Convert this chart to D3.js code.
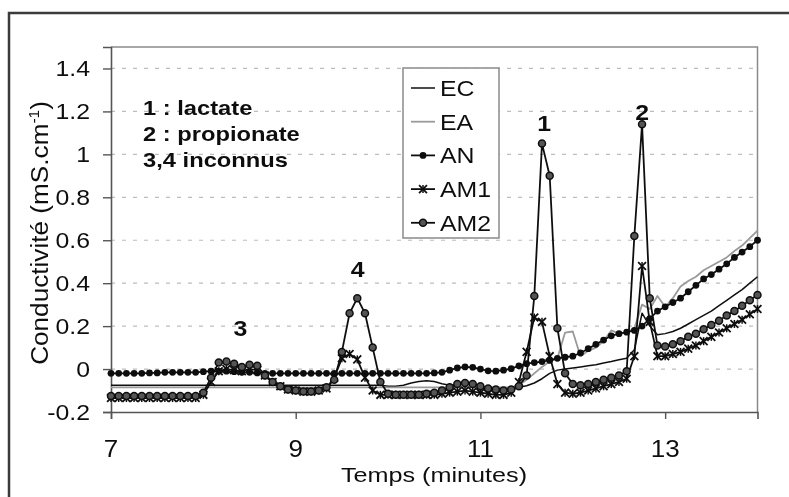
<!DOCTYPE html>
<html>
<head>
<meta charset="utf-8">
<script src="https://cdn.jsdelivr.net/npm/d3@7"></script>
<style>
  body { margin: 0; background: #fff; }
  svg { display: block; }
  text { font-family: "Liberation Sans", Arial, sans-serif; fill: #111; }
</style>
</head>
<body>
<div id="chart"></div>
<script>
// sampling times in seconds (5 s step), shown in minutes
const timeSec = [420,425,430,435,440,445,450,455,460,465,470,475,
  480,485,490,495,500,505,510,515,520,525,530,535,
  540,545,550,555,560,565,570,575,580,585,590,595,
  600,605,610,615,620,625,630,635,640,645,650,655,
  660,665,670,675,680,685,690,695,700,705,710,715,
  720,725,730,735,740,745,750,755,760,765,770,775,
  780,785,790,795,800,805,810,815,820,825,830,835,
  840];

const EC = [-0.075,-0.075,-0.075,-0.075,-0.075,-0.075,-0.075,-0.075,-0.075,-0.075,-0.075,-0.075,
  -0.075,-0.075,-0.075,-0.075,-0.075,-0.075,-0.075,-0.075,-0.075,-0.075,-0.075,-0.075,
  -0.075,-0.075,-0.075,-0.075,-0.075,-0.075,-0.075,-0.075,-0.075,-0.075,-0.075,-0.075,
  -0.08,-0.08,-0.075,-0.065,-0.058,-0.055,-0.058,-0.068,-0.075,-0.072,-0.068,-0.072,
  -0.08,-0.085,-0.088,-0.088,-0.088,-0.085,-0.078,-0.065,-0.045,-0.02,-0.005,0.0,
  0.005,0.01,0.015,0.02,0.028,0.035,0.043,0.05,0.09,0.26,0.2,0.16,
  0.165,0.175,0.19,0.21,0.23,0.25,0.27,0.295,0.32,0.345,0.37,0.4,
  0.43];

const EA = [-0.085,-0.085,-0.085,-0.085,-0.085,-0.085,-0.085,-0.085,-0.085,-0.085,-0.085,-0.085,
  -0.085,-0.085,-0.085,-0.085,-0.085,-0.085,-0.085,-0.085,-0.085,-0.085,-0.085,-0.085,
  -0.085,-0.085,-0.085,-0.085,-0.085,-0.085,-0.085,-0.085,-0.085,-0.085,-0.085,-0.085,
  -0.085,-0.085,-0.085,-0.085,-0.085,-0.085,-0.085,-0.085,-0.085,-0.085,-0.085,-0.085,
  -0.085,-0.085,-0.085,-0.085,-0.085,-0.075,-0.05,-0.02,0.01,0.035,0.05,0.17,
  0.175,0.06,0.085,0.1,0.13,0.18,0.165,0.17,0.19,0.3,0.28,0.34,
  0.29,0.33,0.385,0.41,0.43,0.46,0.48,0.5,0.52,0.55,0.575,0.61,
  0.645];

const AN = [-0.02,-0.02,-0.02,-0.02,-0.02,-0.018,-0.018,-0.015,-0.015,-0.015,-0.015,-0.015,
  -0.012,-0.01,-0.01,-0.01,-0.012,-0.015,-0.015,-0.018,-0.02,-0.02,-0.02,-0.02,
  -0.02,-0.02,-0.02,-0.02,-0.02,-0.02,-0.02,-0.02,-0.02,-0.02,-0.02,-0.02,
  -0.02,-0.02,-0.02,-0.02,-0.02,-0.02,-0.018,-0.015,-0.005,0.005,0.01,0.008,
  0.0,-0.008,-0.01,-0.005,0.002,0.015,0.025,0.03,0.035,0.04,0.05,0.055,
  0.06,0.075,0.095,0.115,0.135,0.155,0.165,0.172,0.18,0.2,0.235,0.27,
  0.29,0.31,0.33,0.36,0.39,0.42,0.44,0.465,0.49,0.52,0.545,0.57,
  0.6];

const AM1 = [-0.135,-0.135,-0.135,-0.135,-0.135,-0.135,-0.135,-0.135,-0.135,-0.135,-0.135,-0.135,
  -0.12,-0.06,-0.01,0.0,-0.005,-0.01,0.0,-0.005,-0.03,-0.06,-0.08,-0.095,
  -0.1,-0.105,-0.105,-0.1,-0.09,-0.04,0.05,0.07,0.045,-0.04,-0.1,-0.12,
  -0.12,-0.12,-0.12,-0.12,-0.12,-0.12,-0.12,-0.115,-0.11,-0.105,-0.1,-0.105,
  -0.11,-0.115,-0.12,-0.12,-0.11,-0.06,0.08,0.24,0.22,0.06,-0.07,-0.11,
  -0.115,-0.11,-0.1,-0.09,-0.08,-0.07,-0.06,-0.045,0.06,0.48,0.22,0.06,
  0.06,0.07,0.08,0.095,0.11,0.13,0.15,0.17,0.19,0.21,0.23,0.255,
  0.28];

const AM2 = [-0.125,-0.125,-0.125,-0.125,-0.125,-0.125,-0.125,-0.125,-0.125,-0.125,-0.125,-0.125,
  -0.11,-0.04,0.03,0.035,0.025,0.01,0.02,0.015,-0.03,-0.06,-0.08,-0.095,
  -0.1,-0.105,-0.105,-0.1,-0.085,-0.05,0.08,0.26,0.33,0.26,0.1,-0.06,
  -0.115,-0.12,-0.12,-0.12,-0.12,-0.115,-0.11,-0.1,-0.085,-0.07,-0.065,-0.07,
  -0.08,-0.09,-0.095,-0.1,-0.095,-0.08,-0.03,0.34,1.05,0.9,0.19,-0.02,
  -0.07,-0.075,-0.07,-0.06,-0.05,-0.04,-0.03,-0.01,0.62,1.14,0.33,0.11,
  0.105,0.115,0.13,0.15,0.165,0.185,0.205,0.225,0.25,0.27,0.295,0.32,
  0.345];

const seriesNames = ["EC", "EA", "AN", "AM1", "AM2"];
const seriesValues = [EC, EA, AN, AM1, AM2];
const xTicks = [7, 9, 11, 13];
const yTicks = [-0.2, 0, 0.2, 0.4, 0.6, 0.8, 1, 1.2, 1.4];
const peakLabels = [["3", 8.4, 0.155], ["4", 9.67, 0.43], ["1", 11.69, 1.11], ["2", 12.75, 1.16]];
const noteLines = ["1 : lactate", "2 : propionate", "3,4 inconnus"];

const W = 789, H = 497;
const SX = 1.13; // the scan is a bit wider than it is tall

const svg = d3.select("#chart").append("svg")
  .attr("width", W).attr("height", H);

const defs = svg.append("defs");
defs.append("filter").attr("id", "soft")
  .append("feGaussianBlur").attr("stdDeviation", 0.45);

const root = svg.append("g").attr("filter", "url(#soft)");

root.append("rect").attr("width", W).attr("height", H).attr("fill", "#fff");
// outer frame (runs off the right and bottom)
root.append("rect")
  .attr("x", 9).attr("y", 13).attr("width", 820).attr("height", 520)
  .attr("fill", "none").attr("stroke", "#3a3a3a").attr("stroke-width", 2.5);

const x = d3.scaleLinear().domain([7, 14]).range([111, 757.5]);
const y = d3.scaleLinear().domain([-0.2, 1.5]).range([412, 47]);

function label(g, px, py, str, size, anchor, weight) {
  return g.append("text")
    .attr("transform", `translate(${px},${py}) scale(${SX},1)`)
    .attr("text-anchor", anchor || "start")
    .style("font-size", size + "px")
    .style("font-weight", weight || "normal")
    .text(str);
}

// grid
root.append("g").selectAll("line")
  .data(yTicks.filter(d => d > -0.2))
  .join("line")
    .attr("x1", x(7)).attr("x2", x(14))
    .attr("y1", d => y(d)).attr("y2", d => y(d))
    .attr("stroke", "#bdbdbd").attr("stroke-width", 1.2)
    .attr("stroke-dasharray", "4,7");

// plot frame top/right
root.append("path")
  .attr("d", `M${x(7)},${y(1.5)}H${x(14)}V${y(-0.2)}`)
  .attr("fill", "none").attr("stroke", "#8a8a8a").attr("stroke-width", 1.5);

// axes
const yAxis = root.append("g").attr("transform", `translate(${x(7)},0)`)
  .call(d3.axisLeft(y).tickValues(yTicks).tickSize(8).tickFormat(() => ""));
const xAxis = root.append("g").attr("transform", `translate(0,${y(-0.2)})`)
  .call(d3.axisBottom(x).tickValues(xTicks).tickSize(7).tickFormat(() => ""));
[xAxis, yAxis].forEach(a => {
  a.select(".domain").attr("stroke", "#555").attr("stroke-width", 1.6);
  a.selectAll(".tick line").attr("stroke", "#555").attr("stroke-width", 1.4);
});

yTicks.forEach(v => label(root, 90, y(v) + 7.5, d3.format("")(v).replace("−", "-"), 22, "end"));
xTicks.forEach(v => label(root, x(v), 457, String(v), 23, "middle"));

label(root, 434, 482, "Temps (minutes)", 21, "middle").attr("transform", `translate(434,482) scale(1.2,1)`);

const yl = root.append("text")
  .attr("transform", "translate(48,233) rotate(-90) scale(1.19,1.1)")
  .attr("text-anchor", "middle")
  .style("font-size", "22px");
yl.append("tspan").text("Conductivité (mS.cm");
yl.append("tspan").attr("dy", -8).style("font-size", "13px").text("-1");
yl.append("tspan").attr("dy", 8).text(")");

// lines
const line = d3.line().x((d, i) => x(timeSec[i] / 60)).y(d => y(d));
const styles = {
  EC: {stroke: "#111", width: 1.5},
  EA: {stroke: "#9a9a9a", width: 1.8},
  AN: {stroke: "#111", width: 1.8},
  AM1: {stroke: "#111", width: 1.8},
  AM2: {stroke: "#111", width: 1.8}
};

const plot = root.append("g");

function drawMarker(g, name, px, py) {
  if (name === "AN") {
    g.append("circle").attr("cx", px).attr("cy", py).attr("r", 3.4).attr("fill", "#111");
  } else if (name === "AM1") {
    g.append("path").attr("transform", `translate(${px},${py})`)
      .attr("d", d3.symbol(d3.symbolTimes, 42)())
      .attr("fill", "none").attr("stroke", "#111").attr("stroke-width", 1.8);
    g.append("path").attr("transform", `translate(${px},${py})`)
      .attr("d", "M0,-4V4").attr("stroke", "#111").attr("stroke-width", 1.5);
  } else if (name === "AM2") {
    g.append("circle").attr("cx", px).attr("cy", py).attr("r", 3.5)
      .attr("fill", "#555").attr("stroke", "#111").attr("stroke-width", 1.5);
  }
}

seriesNames.forEach((name, k) => {
  const vals = seriesValues[k];
  plot.append("path").datum(vals)
    .attr("fill", "none")
    .attr("stroke", styles[name].stroke)
    .attr("stroke-width", styles[name].width)
    .attr("stroke-linejoin", "round")
    .attr("d", line);
  const mg = plot.append("g");
  vals.forEach((v, i) => drawMarker(mg, name, x(timeSec[i] / 60), y(v)));
});

// peak labels
peakLabels.forEach(([t, px, py]) => label(root, x(px), y(py), t, 22, "middle", "bold"));

// notes
noteLines.forEach((t, i) => label(root, 143, 115 + i * 26, t, 21, "start", "bold"));

// legend
const lg = root.append("g");
lg.append("rect").attr("x", 403).attr("y", 68).attr("width", 96).attr("height", 170)
  .attr("fill", "#fff").attr("stroke", "#8a8a8a").attr("stroke-width", 1.5);
seriesNames.forEach((name, k) => {
  const cy = 88 + k * 33.7;
  lg.append("line").attr("x1", 411).attr("x2", 435).attr("y1", cy).attr("y2", cy)
    .attr("stroke", styles[name].stroke).attr("stroke-width", styles[name].width);
  drawMarker(lg, name, 423, cy);
  label(lg, 440, cy + 8, name, 22, "start");
});
</script>
</body>
</html>
